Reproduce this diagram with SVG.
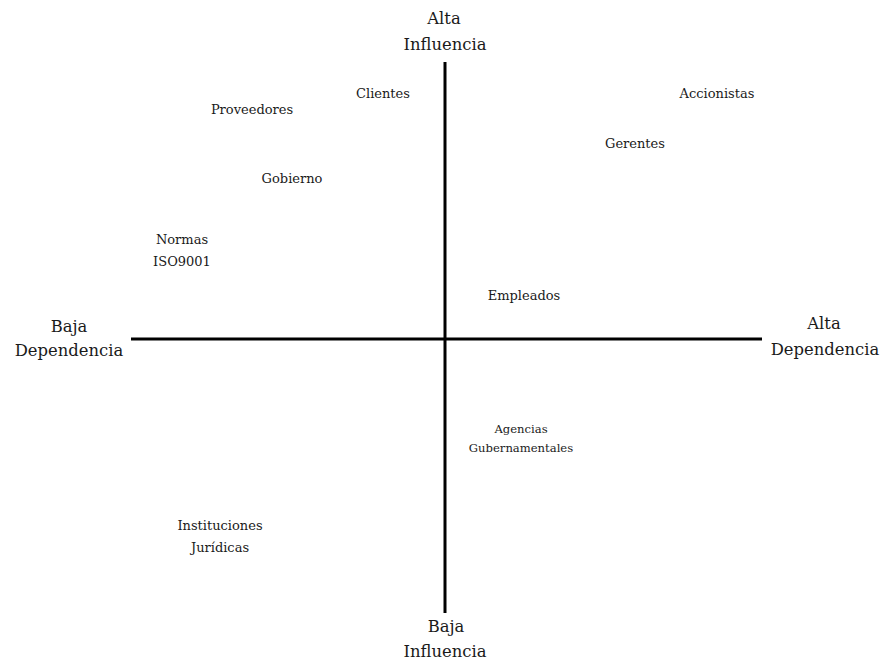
<svg xmlns="http://www.w3.org/2000/svg" width="882" height="664" viewBox="0 0 882 664">
  <style>
    .axis { stroke: #000; stroke-width: 3; fill: none; }
    text { font-family: "DejaVu Serif", "Liberation Serif", serif; fill: #1a1a1a; text-anchor: middle; }
    .ax { font-size: 16.4px; }
    .nd { font-size: 13px; }
    .sm { font-size: 11.6px; }
  </style>
  <rect width="882" height="664" fill="#fff"/>
  <g id="connectors">
    <line class="axis" x1="445" y1="62" x2="445" y2="613"/>
    <line class="axis" x1="131" y1="339" x2="762" y2="339"/>
  </g>
  <g id="label-alta-influencia">
    <text class="ax" x="444" y="24">Alta</text>
    <text class="ax" x="445" y="50">Influencia</text>
  </g>
  <g id="label-baja-influencia">
    <text class="ax" x="446" y="632">Baja</text>
    <text class="ax" x="445" y="657">Influencia</text>
  </g>
  <g id="label-baja-dependencia">
    <text class="ax" x="69" y="332">Baja</text>
    <text class="ax" x="69" y="356">Dependencia</text>
  </g>
  <g id="label-alta-dependencia">
    <text class="ax" x="824" y="329">Alta</text>
    <text class="ax" x="825" y="355">Dependencia</text>
  </g>
  <g id="clientes"><text class="nd" x="383" y="98">Clientes</text></g>
  <g id="proveedores"><text class="nd" x="252" y="114">Proveedores</text></g>
  <g id="accionistas"><text class="nd" x="717" y="98">Accionistas</text></g>
  <g id="gerentes"><text class="nd" x="635" y="148">Gerentes</text></g>
  <g id="gobierno"><text class="nd" x="292" y="183">Gobierno</text></g>
  <g id="normas">
    <text class="nd" x="182" y="244">Normas</text>
    <text class="nd" x="182" y="266">ISO9001</text>
  </g>
  <g id="empleados"><text class="nd" x="524" y="300">Empleados</text></g>
  <g id="agencias">
    <text class="sm" x="521" y="433">Agencias</text>
    <text class="sm" x="521" y="452">Gubernamentales</text>
  </g>
  <g id="instituciones">
    <text class="nd" x="220" y="530">Instituciones</text>
    <text class="nd" x="220" y="552">Jurídicas</text>
  </g>
</svg>
